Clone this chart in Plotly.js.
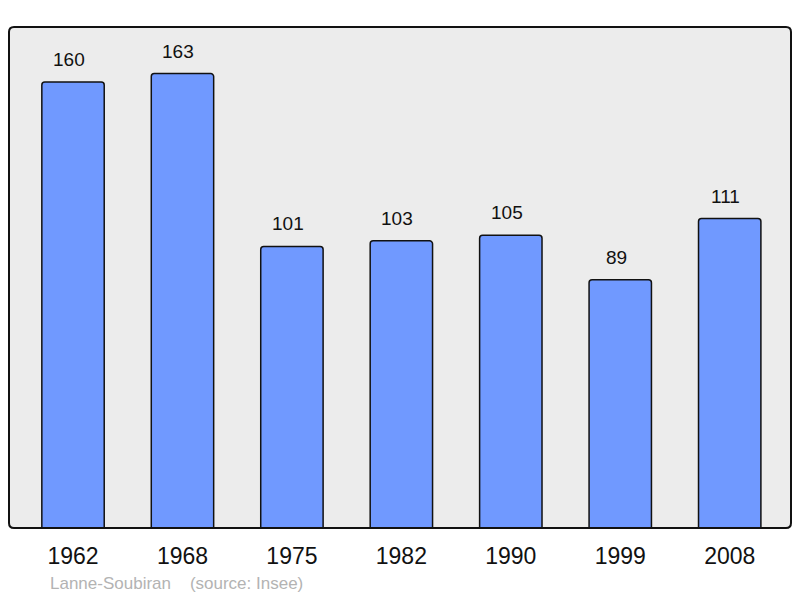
<!DOCTYPE html>
<html><head><meta charset="utf-8">
<script src="https://cdn.plot.ly/plotly-3.0.1.min.js"></script>
<style>html,body{margin:0;padding:0;background:#fff;}#chart{width:800px;height:598px;}</style>
</head><body><div id="chart"></div>
<script>
const years = ["1962","1968","1975","1982","1990","1999","2008"];
const population = [160,163,101,103,105,89,111];
const footer = "Lanne-Soubiran&nbsp;&nbsp;&nbsp;&nbsp;(source: Insee)";

const idx = years.map((_, i) => i);
const trace = {
  type: 'bar', x: idx, y: population,
  width: 0.57,
  marker: {color: '#7099ff', line: {color: '#111', width: 1.5}, cornerradius: 3},
  hoverinfo: 'none'
};
const annotations = population.map((v, i) => ({
  x: i, y: v, xref: 'x', yref: 'y', text: String(v), showarrow: false,
  yanchor: 'bottom', yshift: 10, xshift: -4,
  font: {size: 19, color: '#111', family: 'Liberation Sans, Arial, sans-serif'}
}));
annotations.push({
  xref: 'paper', yref: 'paper', x: 0.0505, y: -0.111, xanchor: 'left', yanchor: 'middle',
  text: footer, showarrow: false,
  font: {size: 17, color: '#b3b3b3', family: 'Liberation Sans, Arial, sans-serif'}
});
const rx = 5 / 782, ry = 5 / 501;
const framePath = `M ${rx},0 L ${1-rx},0 Q 1,0 1,${ry} L 1,${1-ry} Q 1,1 ${1-rx},1 L ${rx},1 Q 0,1 0,${1-ry} L 0,${ry} Q 0,0 ${rx},0 Z`;
const layout = {
  width: 800, height: 598,
  margin: {l: 9, r: 9, t: 27, b: 70},
  paper_bgcolor: '#ffffff', plot_bgcolor: '#ffffff',
  showlegend: false,
  font: {family: 'Liberation Sans, Arial, sans-serif'},
  xaxis: {
    range: [-0.585, 6.56], tickmode: 'array', tickvals: idx, ticktext: years,
    showgrid: false, zeroline: false, showline: false, ticks: '', ticklabelstandoff: 12,
    tickfont: {size: 23, color: '#111'}, fixedrange: true
  },
  yaxis: {range: [0, 179.7], visible: false, showgrid: false, zeroline: false, fixedrange: true},
  shapes: [
    {type: 'path', xref: 'paper', yref: 'paper', path: framePath,
      line: {width: 0}, fillcolor: '#ececec', layer: 'below'},
    {type: 'path', xref: 'paper', yref: 'paper', path: framePath,
      line: {color: '#111', width: 2}, fillcolor: 'rgba(0,0,0,0)', layer: 'above'}
  ],
  annotations: annotations
};
Plotly.newPlot('chart', [trace], layout, {displayModeBar: false, staticPlot: true});
</script></body></html>
